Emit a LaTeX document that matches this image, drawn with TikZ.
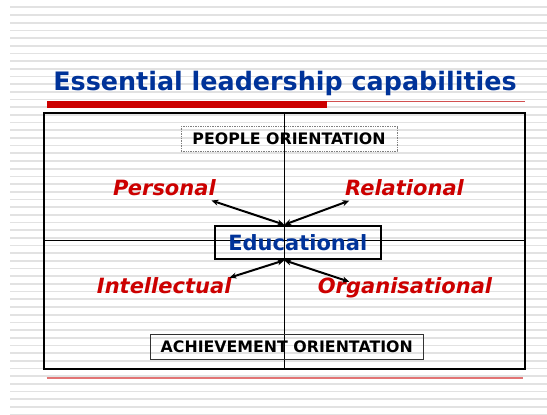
\documentclass[tikz,border=0pt]{standalone}
\usepackage{fontspec}
\setmainfont{DejaVu Sans}
\usepackage{tikz}
\usetikzlibrary{arrows.meta,positioning,calc}
\definecolor{titleblue}{RGB}{0,51,153}
\definecolor{labelred}{RGB}{204,0,0}
\definecolor{rulered}{RGB}{210,80,80}
\definecolor{rulepink}{RGB}{226,116,116}
\definecolor{stripegray}{RGB}{226,226,226}
\tikzset{
    stripe/.style={stripegray, line width=1.7pt},
    capability/.style={anchor=base, text=labelred, font=\fontsize{21}{21}\selectfont\bfseries\itshape, inner sep=0pt},
    orientation/.style={font=\fontsize{15.8}{15.8}\selectfont\bfseries, inner sep=0pt},
    twoway/.style={{Stealth[length=7pt,width=6pt]}-{Stealth[length=7pt,width=6pt]}, line width=2pt}
}

\begin{document}
\begin{tikzpicture}[x=1pt,y=-1pt]
            \useasboundingbox (0,0) rectangle (547,415);
            \fill[white] (0,0) rectangle (547,415);
            \foreach \k in {0,...,53}
                \draw[stripe] (10,{(\k+0.95)*7.685}) -- (547,{(\k+0.95)*7.685});
            \coordinate (B1) at (43.5,112.5);
            \coordinate (B2) at (524.5,112.5);
            \coordinate (B3) at (524.5,369);
            \coordinate (B4) at (43.5,369);
            \coordinate (C) at (284.3,240.3);
            \node[anchor=base, text=titleblue, font=\fontsize{25.4}{25.4}\selectfont\bfseries, inner sep=0pt] (title) at (285,90) {Essential leadership capabilities};
            \fill[labelred] (47,100.7) rectangle (327,107.7);
            \draw[rulered, line width=1pt] (327,101.2) -- (B2 |- 0,101.2);
            \draw[rulepink, line width=1.8pt] (46.7,377.7) -- (522.7,377.7);
            \draw[black, line width=2pt] (B1) -- (B2) -- (B3) -- (B4) -- cycle;
            \draw[black, line width=1pt] (B1 -| C) -- (B4 -| C);
            \draw[black, line width=1pt] (B1 |- C) -- (B2 |- C);
            \node[orientation, draw=gray, densely dotted, line width=0.7pt, minimum width=216pt, minimum height=24.3pt] (people) at (289,138.8) {PEOPLE ORIENTATION};
            \node[orientation, draw=black!80, line width=0.9pt, minimum width=273.7pt, minimum height=25pt] (achieve) at (286.8,346.8) {ACHIEVEMENT ORIENTATION};
            \node[draw=black, line width=2pt, text=titleblue, font=\fontsize{21}{21}\selectfont\bfseries, inner sep=0pt, minimum width=165.7pt, minimum height=33.6pt] (edu) at (297.8,242.5) {Educational};
            \node[capability] (personal) at (164.4,195.7) {Personal};
            \node[capability] (relational) at (404.5,195.7) {Relational};
            \node[capability] (intellectual) at (164.2,293.3) {Intellectual};
            \node[capability] (organisational) at (405,293.3) {Organisational};
            \coordinate (Ptip) at (211.5,200.5);
            \coordinate (Rtip) at (349.3,200.7);
            \coordinate (Itip) at (229.5,277.7);
            \coordinate (Otip) at (349.3,281.7);
            \draw[twoway] (edu.north -| C) -- (Ptip);
            \draw[twoway] (edu.north -| C) -- (Rtip);
            \draw[twoway] (edu.south -| C) -- (Itip);
            \draw[twoway] (edu.south -| C) -- (Otip);
        \end{tikzpicture}
\end{document}
